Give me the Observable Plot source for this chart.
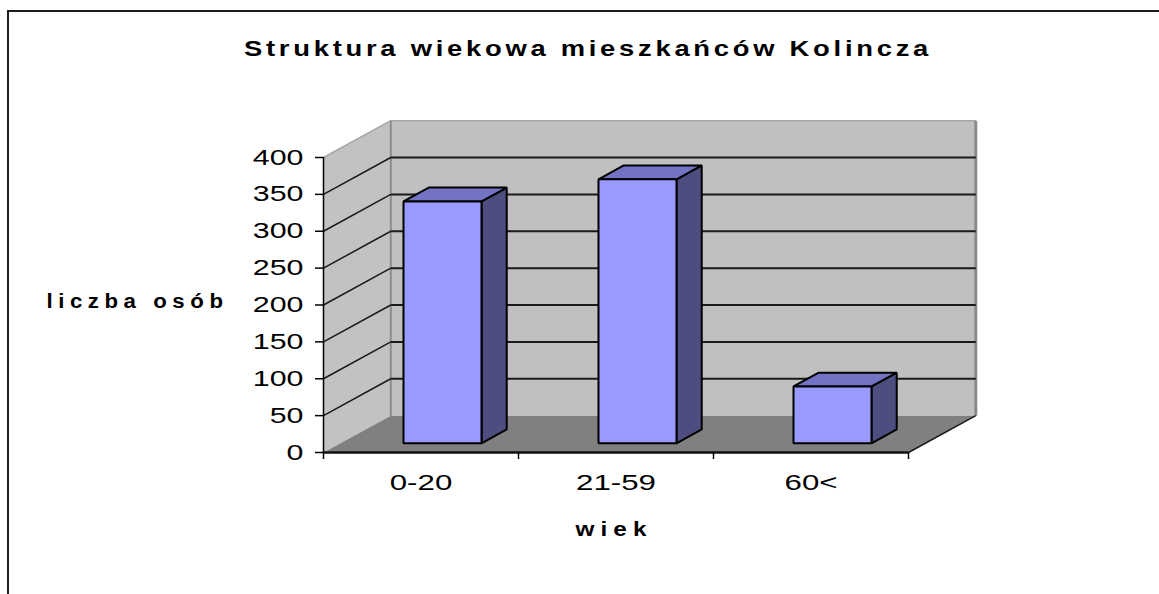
<!DOCTYPE html>
<html><head><meta charset="utf-8">
<script src="https://cdn.jsdelivr.net/npm/d3@7"></script>
<script src="https://cdn.jsdelivr.net/npm/@observablehq/plot@0.6"></script>
<style>
html,body{margin:0;padding:0;background:#fff;width:1159px;height:594px;overflow:hidden;}
#frame{position:absolute;left:7px;top:10px;width:1200px;height:700px;border-left:2px solid #1e1e1e;border-top:2px solid #1e1e1e;box-sizing:border-box;}
#chart{position:absolute;left:0;top:0;}
</style></head><body>
<div id="frame"></div>
<div id="chart"></div>
<script>
// ---- data ----
const title = "Struktura wiekowa mieszkańców Kolincza";
const xTitle = "wiek";
const yTitle = "liczba osób";
const categories = ["0-20", "21-59", "60<"];
const values = [328, 358, 77];
const yTicks = [0, 50, 100, 150, 200, 250, 300, 350, 400];

// ---- 3D geometry in scale units ----
const nCat = categories.length, yMax = 400;
const DX = 0.345, DY = 50;          // depth offset of the back wall
const barX0 = 0.324, barW = 0.4;    // bar position inside its category
const d0 = 0.25, d1 = 0.625;        // bar depth (front, back)
const P = (cx, v, d) => ({x: cx + d * DX, y: v + d * DY});
const poly = (id, pts) => pts.map(p => ({id, ...P(...p)}));

const backWall = poly("back", [[0,0,1],[nCat,0,1],[nCat,yMax,1],[0,yMax,1]]);
const sideWall = poly("side", [[0,0,0],[0,0,1],[0,yMax,1],[0,yMax,0]]);
const floor = poly("floor", [[0,0,0],[nCat,0,0],[nCat,0,1],[0,0,1]]);

const fronts = [], tops = [], sides = [];
values.forEach((v, i) => {
  const a = i + barX0, b = a + barW;
  fronts.push(...poly("f" + i, [[a,0,d0],[b,0,d0],[b,v,d0],[a,v,d0]]));
  tops.push(...poly("t" + i, [[a,v,d0],[b,v,d0],[b,v,d1],[a,v,d1]]));
  sides.push(...poly("s" + i, [[b,0,d0],[b,0,d1],[b,v,d1],[b,v,d0]]));
});

const seg = (p, q) => ({x1: p.x, y1: p.y, x2: q.x, y2: q.y});
const inner = yTicks.filter(t => t > 0 && t < yMax);
const backGrid = inner.map(t => seg(P(0,t,1), P(nCat,t,1)));
const sideGrid = inner.map(t => seg(P(0,t,0), P(0,t,1)));
const wallEdgesGray = [seg(P(0,yMax,0), P(0,yMax,1)), seg(P(0,yMax,1), P(nCat,yMax,1))];
const backLeftEdge = [seg(P(0,0,1), P(0,yMax,1))];
const backRightEdge = [seg(P(nCat,0,1), P(nCat,yMax,1))];
const floorRight = [seg(P(nCat,0,0), P(nCat,0,1))];

const polyMark = (data, fill, extra = {}) => Plot.line(data, {
  x: "x", y: "y", z: "id", curve: "linear-closed", fill, stroke: "none", ...extra
});
const linkOpts = (stroke, strokeWidth) => ({x1: "x1", y1: "y1", x2: "x2", y2: "y2", stroke, strokeWidth});
const barEdge = {stroke: "#000", strokeWidth: 2, strokeLinejoin: "miter"};

const svg = Plot.plot({
  width: 1159, height: 594,
  marginLeft: 323, marginRight: 251, marginTop: 157, marginBottom: 142,
  x: {type: "linear", domain: [0, nCat]},
  y: {type: "linear", domain: [0, yMax]},
  style: {fontFamily: "'Liberation Sans', Arial, sans-serif", fontSize: "22px", background: "transparent", overflow: "visible", color: "#000"},
  marks: [
    polyMark(backWall, "#c0c0c0"),
    polyMark(sideWall, "#c2c2c2"),
    polyMark(floor, "#808080"),
    Plot.link(wallEdgesGray, linkOpts("#a6a6a6", 1.5)),
    Plot.link(backLeftEdge, linkOpts("#8c8c8c", 2)),
    Plot.link(backRightEdge, linkOpts("#8a8a8a", 3)),
    Plot.link(backGrid, linkOpts("#1a1a1a", 2)),
    Plot.link(sideGrid, linkOpts("#1a1a1a", 1.5)),
    Plot.link(floorRight, linkOpts("#1a1a1a", 1.5)),
    Plot.ruleX([0], {y1: 0, y2: yMax, stroke: "#000", strokeWidth: 1.5}),
    Plot.ruleY([0], {x1: 0, x2: nCat, stroke: "#111", strokeWidth: 2.5}),
    Plot.axisY({ticks: yTicks, tickSize: 8, tickPadding: 12, label: null, stroke: "#000", strokeWidth: 1.5, fontSize: 22}),
    Plot.axisX({ticks: d3.range(nCat + 1), tickSize: 7, tickFormat: () => "", label: null, stroke: "#000", strokeWidth: 1.5}),
    polyMark(sides, "#4d4d80", barEdge),
    polyMark(tops, "#7373c6", barEdge),
    polyMark(fronts, "#9999ff", barEdge),
    Plot.text(categories, {x: (d, i) => i + 0.5, y: 0, dy: 30, text: d => d, fontSize: 22, ariaDescription: "x-cat-label"}),
    Plot.text([title], {frameAnchor: "top", dx: -28, dy: -117, text: d => d, fontSize: 22, fontWeight: 600, ariaDescription: "chart-title"}),
    Plot.text([yTitle], {frameAnchor: "left", textAnchor: "end", dx: -95, dy: -3, text: d => d, fontSize: 20, fontWeight: "bold", ariaDescription: "y-title"}),
    Plot.text([xTitle], {frameAnchor: "bottom", dx: -2, dy: 83, text: d => d, fontSize: 20, fontWeight: "bold", ariaDescription: "x-title"})
  ]
});
document.getElementById("chart").append(svg);

function fit(sel, widthFn, adjust, spacing) {
  d3.select(svg).selectAll(sel).each(function () {
    if (spacing) this.style.letterSpacing = spacing;
    const w = this.getComputedTextLength();
    this.setAttribute("textLength", widthFn(w));
    this.setAttribute("lengthAdjust", adjust);
  });
}
fit('g[aria-label="y-axis tick label"] text', w => w * 1.38, "spacingAndGlyphs");
fit('g[aria-description="x-cat-label"] text', w => w * 1.42, "spacingAndGlyphs");
fit('g[aria-description="chart-title"] text', () => 688, "spacingAndGlyphs", "3px");
fit('g[aria-description="y-title"] text', () => 182, "spacingAndGlyphs", "5px");
fit('g[aria-description="x-title"] text', () => 77, "spacingAndGlyphs", "5px");
</script>
</body></html>
